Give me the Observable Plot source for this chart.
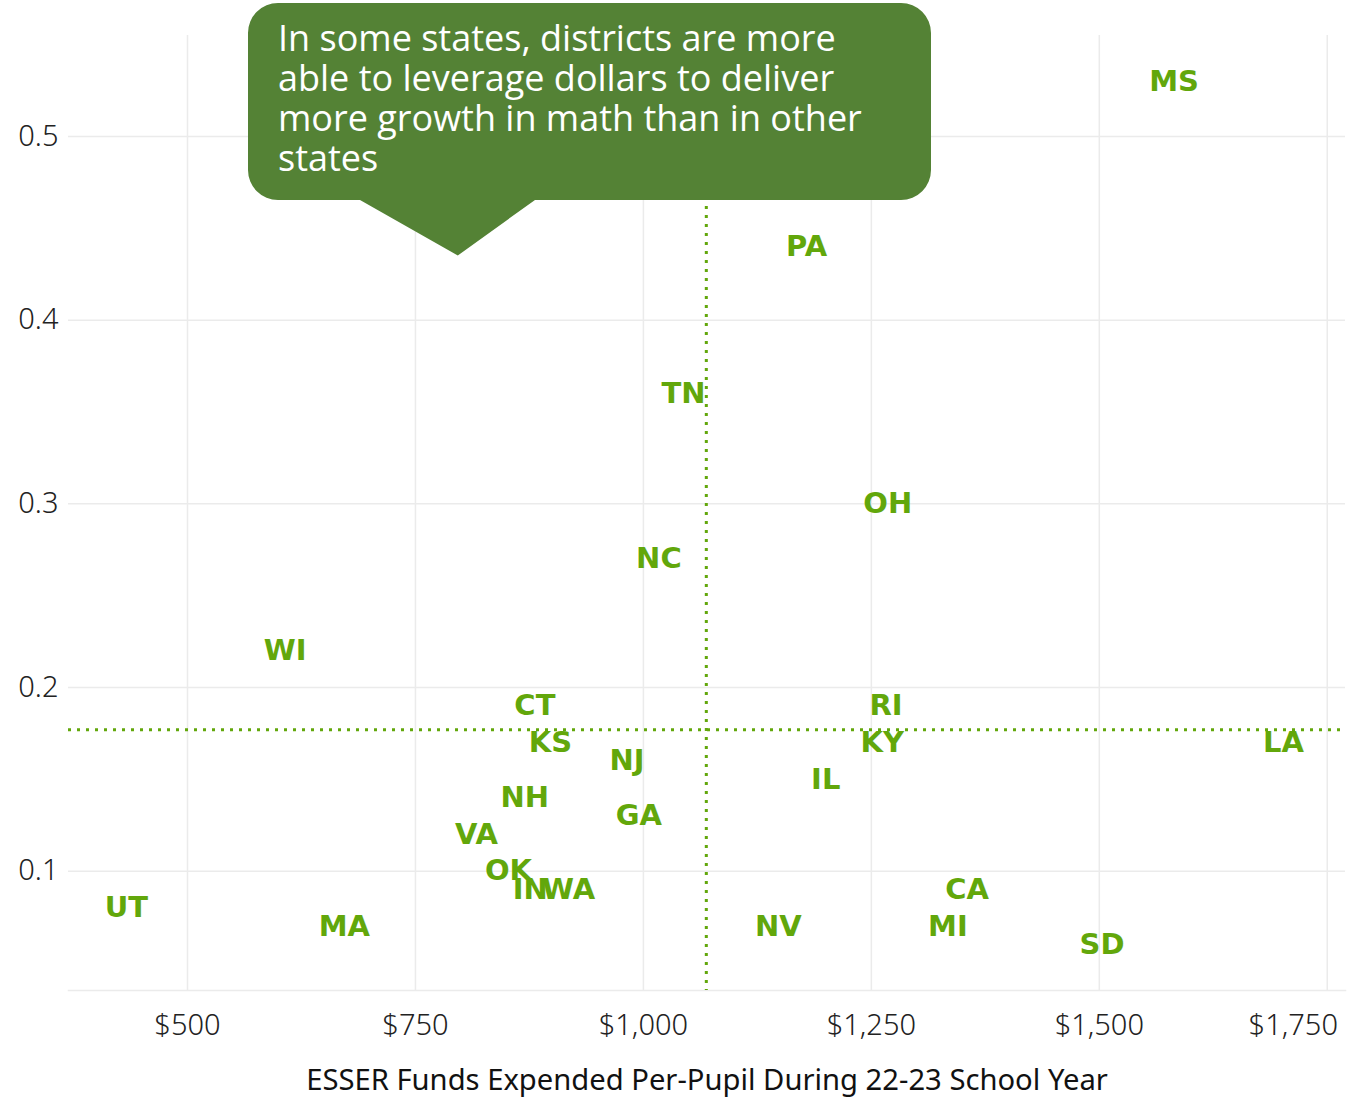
<!DOCTYPE html>
<html>
<head>
<meta charset="utf-8">
<script src="https://cdn.jsdelivr.net/npm/d3@7"></script>
<script src="https://cdn.jsdelivr.net/npm/@observablehq/plot@0.6"></script>
<style>
  body { margin: 0; background: #fff; }
  #chart svg { display: block; }
</style>
</head>
<body>
<div id="chart"></div>
<script>
// Data
const states = ["MS","PA","TN","OH","NC","WI","CT","RI","KS","KY","LA","NJ","IL","NH","GA","VA","OK","IN","WA","CA","UT","MA","NV","MI","SD"];
const spending = [1582,1179,1044,1268,1017,607,881,1266,898,1262,1702,982,1200,870,995,817,852,876,918,1355,433,672,1148,1334,1503];
const growth = [0.530,0.440,0.360,0.300,0.270,0.220,0.190,0.190,0.170,0.170,0.170,0.160,0.150,0.140,0.130,0.120,0.100,0.090,0.090,0.090,0.080,0.070,0.070,0.070,0.060];
const xTicks = [500,750,1000,1250,1500,1750];
const yTicks = [0.1,0.2,0.3,0.4,0.5];
const avgSpending = 1069;
const avgGrowth = 0.177;
const calloutLines = ["In some states, districts are more","able to leverage dollars to deliver","more growth in math than in other","states"];

(function () {
const data = states.map((s,i) => ({state: s, x: spending[i], y: growth[i]}));
const green = "#62A70B";
const fmt = d => "$" + d3.format(",")(d);
const innerTicks = xTicks.slice(0, -1);
const lastTick = xTicks.slice(-1);
const tickStyle = {tickFormat: fmt, tickSize: 0, tickPadding: 24, fontSize: 29, fontWeight: 300, fill: "#222", label: null};

const chart = Plot.plot({
  width: 1357,
  height: 1098,
  marginLeft: 68,
  marginRight: 12,
  marginTop: 35,
  marginBottom: 108,
  style: {fontFamily: "'Noto Sans', sans-serif", background: "#fff"},
  x: {domain: [369.5, 1770]},
  y: {domain: [0.035, 0.555]},
  marks: [
    Plot.gridX(xTicks, {stroke: "#ebebeb", strokeOpacity: 1, strokeWidth: 1.5}),
    Plot.gridY(yTicks, {stroke: "#ebebeb", strokeOpacity: 1, strokeWidth: 1.5}),
    Plot.frame({anchor: "bottom", stroke: "#ebebeb", strokeWidth: 1.5}),
    Plot.axisX(innerTicks, tickStyle),
    Plot.axisX(lastTick, {...tickStyle, dx: -34}),
    Plot.axisY(yTicks, {tickFormat: d => String(d), tickSize: 0, tickPadding: 10, fontSize: 29, fontWeight: 300, fill: "#222", label: null}),
    Plot.text(["ESSER Funds Expended Per-Pupil During 22-23 School Year"], {frameAnchor: "bottom", dy: 99, fontSize: 29.2, fill: "#111", lineAnchor: "bottom"}),
    Plot.ruleX([avgSpending], {stroke: green, strokeWidth: 3, strokeDasharray: "3,6"}),
    Plot.ruleY([avgGrowth], {stroke: green, strokeWidth: 3, strokeDasharray: "3,6"}),
    Plot.text(data, {x: "x", y: "y", text: "state", fill: green, fontSize: 29, fontWeight: "bold", fontFamily: "'DejaVu Sans', sans-serif"})
  ]
});

// Callout annotation anchored to a data location
const sx = chart.scale("x"), sy = chart.scale("y");
const tipX = sx.apply(797), tipY = sy.apply(0.435);
const svg = d3.select(chart);
const g = svg.append("g");
const bl = 248, br = 931, bt = 3, bb = 200, r = 30;
const p = d3.path();
p.moveTo(bl + r, bt);
p.lineTo(br - r, bt);
p.arcTo(br, bt, br, bt + r, r);
p.lineTo(br, bb - r);
p.arcTo(br, bb, br - r, bb, r);
p.lineTo(535, bb);
p.lineTo(tipX, tipY);
p.lineTo(360, bb);
p.lineTo(bl + r, bb);
p.arcTo(bl, bb, bl, bb - r, r);
p.lineTo(bl, bt + r);
p.arcTo(bl, bt, bl + r, bt, r);
p.closePath();
g.append("path").attr("d", p.toString()).attr("fill", "#548235");
const t = g.append("text")
  .attr("fill", "#fff")
  .attr("text-anchor", "start")
  .attr("font-family", "'Open Sans', sans-serif")
  .attr("font-size", 36);
calloutLines.forEach((line, i) => {
  t.append("tspan").attr("x", 278).attr("y", 51 + i * 40).text(line);
});

document.getElementById("chart").appendChild(chart);
})();
</script>
</body>
</html>
